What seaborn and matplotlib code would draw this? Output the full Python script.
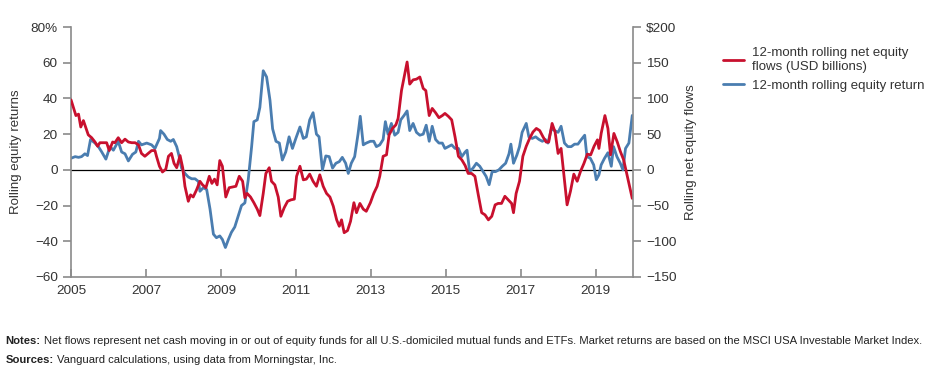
import matplotlib
matplotlib.use("Agg")
import matplotlib.pyplot as plt
import numpy as np
import pandas as pd
import seaborn as sns

# 12-month rolling equity return (%), decimal years
ret_dates = [2005.00, 2005.11, 2005.20, 2005.28, 2005.37, 2005.44, 2005.52, 2005.64, 2005.73, 2005.82,
             2005.93, 2006.04, 2006.13, 2006.26, 2006.35, 2006.44, 2006.53, 2006.64, 2006.73, 2006.80,
             2006.88, 2007.02, 2007.15, 2007.24, 2007.36, 2007.39, 2007.48, 2007.57, 2007.66, 2007.73,
             2007.82, 2007.88, 2007.95, 2008.04, 2008.13, 2008.22, 2008.31, 2008.40, 2008.44, 2008.53,
             2008.62, 2008.71, 2008.80, 2008.88, 2008.97, 2009.04, 2009.12, 2009.20, 2009.28, 2009.37,
             2009.46, 2009.55, 2009.64, 2009.73, 2009.82, 2009.88, 2009.97, 2010.04, 2010.13, 2010.22,
             2010.31, 2010.38, 2010.47, 2010.56, 2010.64, 2010.73, 2010.82, 2010.91, 2011.00, 2011.11,
             2011.20, 2011.28, 2011.37, 2011.46, 2011.55, 2011.62, 2011.71, 2011.80, 2011.89, 2011.98,
             2012.07, 2012.16, 2012.24, 2012.33, 2012.40, 2012.48, 2012.57, 2012.66, 2012.72, 2012.80,
             2012.88, 2012.99, 2013.08, 2013.15, 2013.24, 2013.33, 2013.39, 2013.46, 2013.55, 2013.64,
             2013.73, 2013.80, 2013.89, 2013.97, 2014.04, 2014.13, 2014.22, 2014.31, 2014.40, 2014.48,
             2014.56, 2014.64, 2014.73, 2014.82, 2014.91, 2014.98, 2015.07, 2015.16, 2015.25, 2015.34,
             2015.43, 2015.52, 2015.57, 2015.64, 2015.73, 2015.82, 2015.91, 2016.00, 2016.08, 2016.16,
             2016.24, 2016.33, 2016.42, 2016.51, 2016.60, 2016.69, 2016.74, 2016.81, 2016.90, 2016.97,
             2017.04, 2017.15, 2017.22, 2017.31, 2017.40, 2017.49, 2017.58, 2017.66, 2017.73, 2017.82,
             2017.91, 2018.00, 2018.08, 2018.17, 2018.26, 2018.35, 2018.44, 2018.53, 2018.62, 2018.71,
             2018.77, 2018.86, 2018.95, 2019.02, 2019.09, 2019.15, 2019.24, 2019.33, 2019.42, 2019.48,
             2019.57, 2019.66, 2019.73, 2019.80, 2019.89, 2019.98]
ret_values = [6.5, 7.4, 7, 7.4, 9, 8, 17, 15, 13, 10,
              6, 13, 11, 16, 10, 9, 5, 8.7, 10, 16,
              14, 15, 14, 12, 17.6, 22, 20, 17, 16, 17,
              13, 8, 1, -2, -4, -5, -5, -6.5, -12, -10,
              -11, -22, -36, -38, -37, -39, -43.5, -39, -35, -32,
              -26, -20, -18.5, -5.5, 13, 27, 28, 35, 55.5, 52,
              39, 23, 16, 15, 5.5, 10, 18.5, 12, 17.6, 24,
              17.6, 18.5, 28, 32, 20, 18.5, 0, 7.8, 7.4, 1,
              3.7, 4.6, 7, 3.7, -2, 3.7, 7.4, 20, 30, 14,
              15, 16, 16, 13, 14, 17, 27, 20, 26, 19.4,
              21, 28, 30.5, 33, 22, 26, 21, 19.4, 20, 25,
              16, 24.4, 17, 15, 15, 12, 13, 14, 12, 12,
              7.4, 10, 11, -1, 1, 3.7, 2, -1, -3.7, -8.3,
              -1, -1, 0, 2, 3.7, 9, 14.4, 3.7, 8.3, 13,
              21, 26, 18.5, 17.6, 18.5, 17, 16, 17, 15, 23,
              22, 21, 24.4, 15, 13, 13, 14.4, 14.4, 17, 19.4,
              7.4, 6.5, 2.8, -5.5, -2.8, 2.8, 6.5, 9.6, 2, 13,
              7.4, 3.7, 0, 12, 15, 30.5]

# 12-month rolling net equity flows (USD billions)
flow_dates = [2005.00, 2005.06, 2005.13, 2005.20, 2005.26, 2005.33, 2005.40, 2005.46, 2005.55, 2005.64,
              2005.71, 2005.77, 2005.86, 2005.95, 2006.02, 2006.11, 2006.17, 2006.26, 2006.35, 2006.44,
              2006.53, 2006.62, 2006.71, 2006.80, 2006.88, 2006.97, 2007.06, 2007.15, 2007.24, 2007.28,
              2007.36, 2007.44, 2007.53, 2007.60, 2007.68, 2007.75, 2007.82, 2007.91, 2007.98, 2008.04,
              2008.13, 2008.19, 2008.26, 2008.35, 2008.44, 2008.51, 2008.60, 2008.69, 2008.76, 2008.83,
              2008.90, 2008.97, 2009.04, 2009.13, 2009.22, 2009.31, 2009.40, 2009.49, 2009.58, 2009.64,
              2009.70, 2009.79, 2009.88, 2009.97, 2010.04, 2010.13, 2010.20, 2010.29, 2010.35, 2010.44,
              2010.53, 2010.60, 2010.69, 2010.78, 2010.87, 2010.96, 2011.02, 2011.11, 2011.20, 2011.28,
              2011.37, 2011.46, 2011.55, 2011.64, 2011.73, 2011.82, 2011.91, 2012.00, 2012.09, 2012.16,
              2012.22, 2012.29, 2012.38, 2012.46, 2012.55, 2012.62, 2012.71, 2012.80, 2012.88, 2012.99,
              2013.08, 2013.17, 2013.24, 2013.33, 2013.42, 2013.49, 2013.58, 2013.67, 2013.73, 2013.82,
              2013.89, 2013.97, 2014.04, 2014.13, 2014.22, 2014.31, 2014.40, 2014.47, 2014.56, 2014.64,
              2014.73, 2014.82, 2014.91, 2014.98, 2015.07, 2015.16, 2015.25, 2015.34, 2015.43, 2015.52,
              2015.60, 2015.69, 2015.78, 2015.87, 2015.96, 2016.05, 2016.14, 2016.23, 2016.32, 2016.40,
              2016.49, 2016.58, 2016.67, 2016.76, 2016.81, 2016.88, 2016.97, 2017.06, 2017.15, 2017.24,
              2017.33, 2017.42, 2017.51, 2017.60, 2017.68, 2017.75, 2017.84, 2017.92, 2018.00, 2018.08,
              2018.17, 2018.24, 2018.33, 2018.42, 2018.51, 2018.60, 2018.69, 2018.78, 2018.87, 2018.96,
              2019.05, 2019.09, 2019.15, 2019.25, 2019.33, 2019.40, 2019.49, 2019.58, 2019.66, 2019.75,
              2019.84, 2019.93, 2019.98]
flow_values = [98, 88, 76, 78, 60, 69, 58, 49, 45, 39,
               33, 38, 38, 38, 27, 39, 38, 45, 38, 43,
               39, 38, 38, 35, 23, 19, 23, 27, 27, 19,
               5, -3, 1, 19, 23, 9, 3, 20, 3, -23,
               -44, -35, -38, -28, -16, -21, -25, -9, -19, -13,
               -21, 13, 5, -38, -25, -24, -23, -9, -16, -39,
               -33, -38, -46, -55, -64, -33, -5, 3, -16, -21,
               -38, -65, -53, -44, -42, -41, -9, 5, -14, -13,
               -6, -16, -23, -7, -23, -33, -38, -51, -70, -79,
               -70, -88, -85, -72, -46, -60, -47, -55, -58, -46,
               -33, -23, -9, 19, 21, 49, 58, 63, 72, 111,
               130, 151, 120, 126, 127, 130, 114, 111, 76, 86,
               80, 73, 76, 79, 75, 70, 46, 19, 14, 6,
               -5, -5, -9, -35, -60, -63, -70, -65, -49, -47,
               -47, -37, -42, -47, -60, -33, -16, 19, 33, 44,
               53, 58, 55, 46, 39, 39, 65, 53, 23, 30,
               -14, -49, -30, -6, -16, -2, 9, 22, 21, 33,
               42, 30, 51, 76, 58, 21, 51, 39, 26, 14,
               -7, -28, -40]

year_ticks = [2005, 2007, 2009, 2011, 2013, 2015, 2017, 2019]
ret_ticks = [-60, -40, -20, 0, 20, 40, 60, 80]
flow_ticks = [-150, -100, -50, 0, 50, 100, 150, 200]

RED = "#C8102E"
BLUE = "#4A7DB0"
GREY = "#8a8a8a"
TXT = "#333333"

sns.set_style("white")
plt.rcParams["font.family"] = ["Liberation Sans", "DejaVu Sans"]
plt.rcParams["font.size"] = 9

ret_df = pd.DataFrame({"date": ret_dates, "value": ret_values})
flow_df = pd.DataFrame({"date": flow_dates, "value": flow_values})

fig = plt.figure(figsize=(9.36, 3.73), dpi=100)
ax = fig.add_axes([0.0759, 0.2574, 0.6004, 0.6702])
ax2 = ax.twinx()

sns.lineplot(data=ret_df, x="date", y="value", ax=ax, color=BLUE, lw=2.0,
             label="12-month rolling equity return", legend=False)
sns.lineplot(data=flow_df, x="date", y="value", ax=ax2, color=RED, lw=2.0,
             label="12-month rolling net equity\nflows (USD billions)", legend=False)

ax.axhline(0, color="black", lw=0.9, zorder=1)

ax.set_xlim(2005, 2020)
ax.set_ylim(-60, 80)
ax2.set_ylim(-150, 200)
ax.set_xticks(year_ticks)
ax.set_xticklabels([str(y) for y in year_ticks])
ax.set_yticks(ret_ticks)
ax.set_yticklabels([("80%" if v == 80 else str(v).replace("-", "\u2212")) for v in ret_ticks])
ax2.set_yticks(flow_ticks)
ax2.set_yticklabels([("$200" if v == 200 else str(v).replace("-", "\u2212")) for v in flow_ticks])

ax.set_xlabel("")
ax.set_ylabel("Rolling equity returns", color=TXT, fontsize=9.5, labelpad=6)
ax2.set_ylabel("Rolling net equity flows", color=TXT, fontsize=9.5, labelpad=6)

for a in (ax, ax2):
    for s in a.spines.values():
        s.set_visible(False)
ax.spines["left"].set_visible(True)
ax.spines["bottom"].set_visible(True)
ax2.spines["right"].set_visible(True)
for s in (ax.spines["left"], ax.spines["bottom"], ax2.spines["right"]):
    s.set_color(GREY)
    s.set_linewidth(1.2)

ax.tick_params(axis="y", direction="out", length=6, width=1.2, color=GREY, labelcolor=TXT, labelsize=9.7, left=True)
ax.tick_params(axis="x", direction="in", length=6, width=1.2, color=GREY, labelcolor=TXT, labelsize=9.7, bottom=True, pad=6)
ax2.tick_params(axis="y", direction="out", length=6, width=1.2, color=GREY, labelcolor=TXT, labelsize=9.7, right=True)
ax.grid(False)
ax2.grid(False)

h1, l1 = ax2.get_legend_handles_labels()
h2, l2 = ax.get_legend_handles_labels()
fig.legend(h1 + h2, l1 + l2, loc="upper left", bbox_to_anchor=(0.760, 0.905),
           frameon=False, fontsize=9.5, handlelength=1.6, handletextpad=0.6,
           labelspacing=0.5, labelcolor=TXT)

notes_font = ["Liberation Sans", "DejaVu Sans"]
fs = 8.1
fig.canvas.draw()
r = fig.canvas.get_renderer()
t1 = fig.text(0.006, 0.078, "Notes:", fontsize=fs, fontweight="bold", color="#222222", family=notes_font)
t2 = fig.text(0.006, 0.027, "Sources:", fontsize=fs, fontweight="bold", color="#222222", family=notes_font)
w1 = t1.get_window_extent(r).x1 / fig.bbox.width
w2 = t2.get_window_extent(r).x1 / fig.bbox.width
fig.text(w1 + 0.003, 0.078,
         "Net flows represent net cash moving in or out of equity funds for all U.S.-domiciled mutual funds and ETFs. "
         "Market returns are based on the MSCI USA Investable Market Index.",
         fontsize=fs, color="#222222", family=notes_font)
fig.text(w2 + 0.003, 0.027, "Vanguard calculations, using data from Morningstar, Inc.",
         fontsize=fs, color="#222222", family=notes_font)

fig.savefig("out.png", dpi=100)
